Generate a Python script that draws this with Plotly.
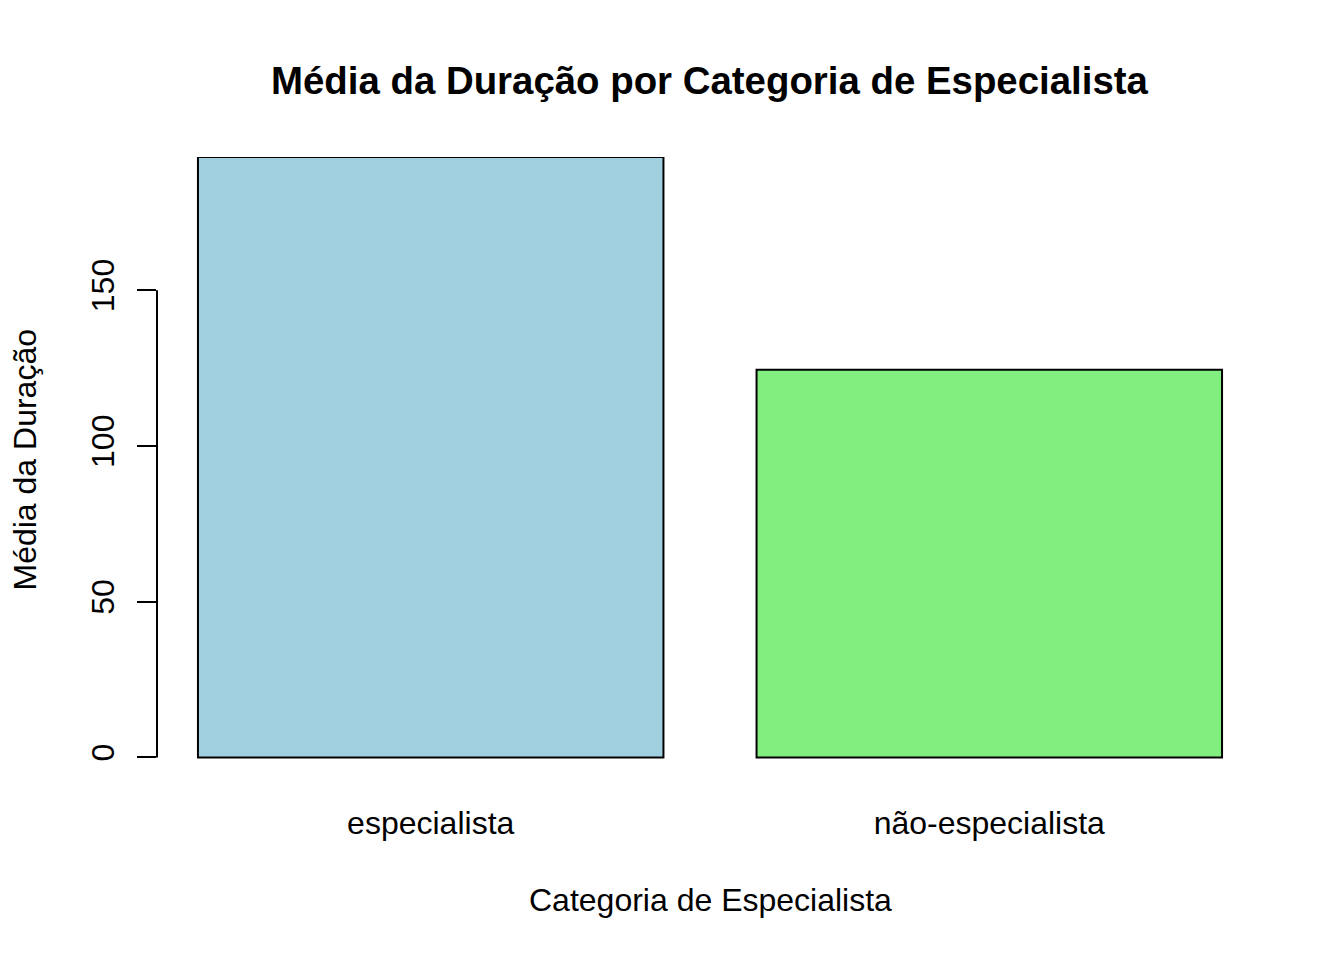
import plotly.graph_objects as go

categories = ["especialista", "não-especialista"]
mean_duration = [192.8, 124.5]
bar_colors = ["#A0CFE0", "#82EE7F"]
y_ticks = [0, 50, 100, 150]

# R barplot layout: width 1, space 0.2
bar_x = [0.2 + 0.5 + i * 1.2 for i in range(len(categories))]
x_lo = 0.2 - 0.04 * (bar_x[-1] + 0.5 - 0.2)
x_hi = bar_x[-1] + 0.5 + 0.04 * (bar_x[-1] + 0.5 - 0.2)

FONT = "Liberation Sans, Arial, Helvetica, sans-serif"

fig = go.Figure()
fig.add_trace(go.Bar(
    x=bar_x, y=mean_duration, width=1.0,
    marker=dict(color=bar_colors, line=dict(color="black", width=2)),
    hoverinfo="skip", cliponaxis=False,
))

fig.update_layout(
    width=1344, height=960,
    margin=dict(l=157, r=81, t=157, b=196),
    paper_bgcolor="white", plot_bgcolor="white",
    showlegend=False,
    font=dict(family=FONT, size=32, color="black"),
    xaxis=dict(
        range=[x_lo, x_hi], showgrid=False, zeroline=False, showline=False,
        tickmode="array", tickvals=bar_x, ticktext=categories,
        ticks="", ticklabelstandoff=37,
        tickfont=dict(size=32, family=FONT, color="black"),
    ),
    yaxis=dict(
        range=[-2.09, 192.8], showgrid=False, zeroline=False, showline=False,
        tickmode="array", tickvals=y_ticks, ticktext=[str(v) for v in y_ticks],
        ticks="outside", ticklen=19, tickwidth=2, tickcolor="black",
        tickangle=-90, ticklabelstandoff=10,
        tickfont=dict(size=32, family=FONT, color="black"),
    ),
    shapes=[dict(type="line", xref="paper", yref="y", x0=0, x1=0,
                 y0=min(y_ticks), y1=max(y_ticks),
                 line=dict(color="black", width=2))],
    annotations=[
        dict(text="<b>Média da Duração por Categoria de Especialista</b>",
             xref="paper", yref="paper", x=0.5, y=1, yshift=77,
             xanchor="center", yanchor="middle", showarrow=False,
             font=dict(size=38.4, family=FONT, color="black")),
        dict(text="Categoria de Especialista",
             xref="paper", yref="paper", x=0.5, y=0, yshift=-136,
             xanchor="center", yanchor="middle", showarrow=False,
             font=dict(size=32, family=FONT, color="black")),
        dict(text="Média da Duração",
             xref="paper", yref="paper", x=0, y=0.5, xshift=-133,
             xanchor="center", yanchor="middle", textangle=-90, showarrow=False,
             font=dict(size=32, family=FONT, color="black")),
    ],
)

fig.write_html("out.html")
